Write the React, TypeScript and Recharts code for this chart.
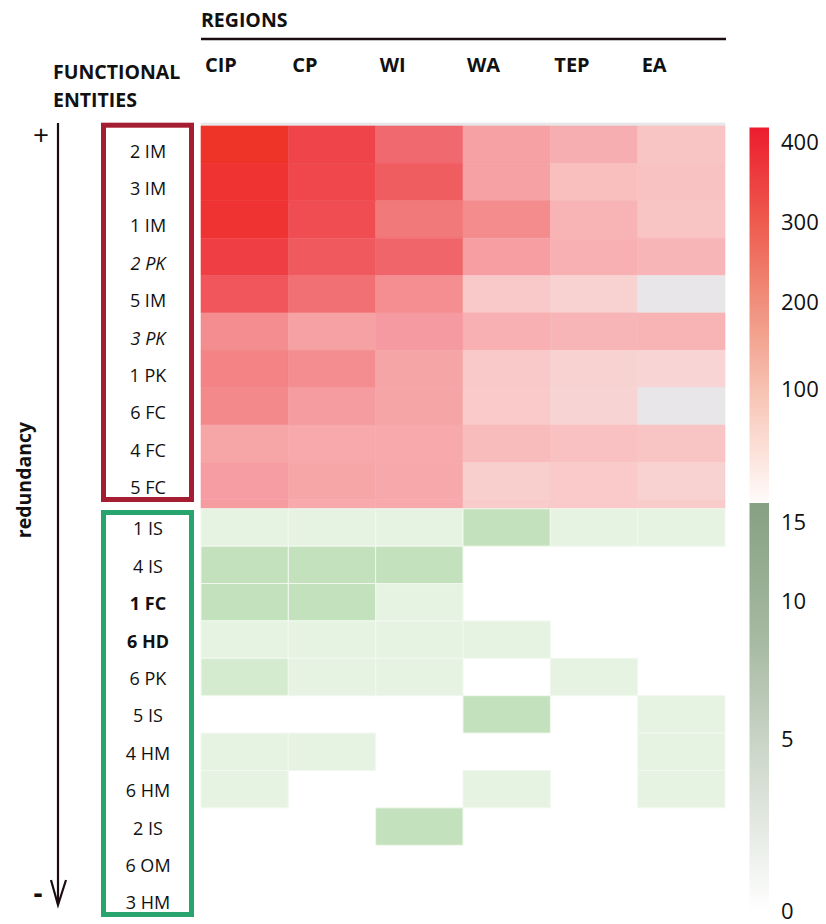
import React from 'react';
import { ComposedChart, XAxis, YAxis, ReferenceArea, Scatter } from 'recharts';

const regions = ['CIP', 'CP', 'WI', 'WA', 'TEP', 'EA'];

const highLabels = ['2 IM', '3 IM', '1 IM', '2 PK', '5 IM', '3 PK', '1 PK', '6 FC', '4 FC', '5 FC'];
const lowLabels = ['1 IS', '4 IS', '1 FC', '6 HD', '6 PK', '5 IS', '4 HM', '6 HM', '2 IS', '6 OM', '3 HM'];
const italicLabels = ['2 PK', '3 PK'];
const boldLabels = ['1 FC', '6 HD'];

// values of highly redundant entities, per row (CIP, CP, WI, WA, TEP, EA)
const highValues: number[][] = [
  [410, 330, 262, 150, 122, 76],
  [392, 322, 282, 150, 88, 80],
  [392, 312, 226, 196, 110, 76],
  [352, 290, 268, 160, 116, 106],
  [296, 244, 190, 66, 46, 0],
  [192, 150, 170, 116, 106, 110],
  [212, 192, 142, 66, 46, 40],
  [200, 166, 142, 62, 42, 0],
  [140, 132, 132, 92, 82, 76],
  [162, 140, 134, 52, 62, 46],
];
const topEdge = [0, 0, 0, 0, 0, 0];
const bottomEdge = [164, 132, 132, 60, 62, 60];

// values of low redundancy entities, per row
const lowValues: number[][] = [
  [1, 1, 1, 3, 1, 1],
  [3, 3, 3, 0, 0, 0],
  [3, 3, 1, 0, 0, 0],
  [1, 1, 1, 1, 0, 0],
  [2, 1, 1, 0, 1, 0],
  [0, 0, 0, 3, 0, 1],
  [1, 1, 0, 0, 0, 1],
  [1, 0, 0, 1, 0, 1],
  [0, 0, 3, 0, 0, 0],
  [0, 0, 0, 0, 0, 0],
  [0, 0, 0, 0, 0, 0],
];

const redTicks = [400, 300, 200, 100];
const greenTicks = [15, 10, 5, 0];

const EDGE_TOP = 0.08;
const EDGE_BOTTOM = 0.24;
const greenStart = highValues.length + EDGE_BOTTOM;
const totalRows = greenStart + lowValues.length;

const redStops: [number, string][] = [
  [40, '#f8d4d4'],
  [60, '#f9cbca'],
  [80, '#f9c2c2'],
  [105, '#f8b5b7'],
  [130, '#f7aaac'],
  [150, '#f6a2a4'],
  [170, '#f59aa0'],
  [190, '#f48e90'],
  [210, '#f38486'],
  [230, '#f27676'],
  [260, '#f06a70'],
  [280, '#f05e62'],
  [300, '#f0545a'],
  [320, '#ef484c'],
  [350, '#ef4046'],
  [390, '#ef3333'],
  [410, '#ee3428'],
];

function hex(c: string) {
  return [1, 3, 5].map((i) => parseInt(c.slice(i, i + 2), 16));
}
function mix(a: string, b: string, t: number) {
  const A = hex(a);
  const B = hex(b);
  return (
    '#' +
    A.map((v, i) => Math.round(v + (B[i] - v) * t).toString(16).padStart(2, '0')).join('')
  );
}
function redColor(v: number) {
  if (v <= 0) return '#e8e6e8';
  if (v <= redStops[0][0]) return redStops[0][1];
  for (let i = 1; i < redStops.length; i++) {
    if (v <= redStops[i][0]) {
      const [v0, c0] = redStops[i - 1];
      const [v1, c1] = redStops[i];
      return mix(c0, c1, (v - v0) / (v1 - v0));
    }
  }
  return redStops[redStops.length - 1][1];
}
const greenColors: Record<number, string> = { 1: '#e6f3e2', 2: '#d5ebd0', 3: '#c2e1bc' };

const allLabels = [...highLabels, ...lowLabels];
const tickValues = [
  ...highLabels.map((_, i) => i + 0.5),
  ...lowLabels.map((_, j) => greenStart + j + 0.5),
];
const chartData = allLabels.map((l, i) => ({ label: l, col: 0.5, pos: tickValues[i] }));

const FONT = '"Open Sans", "Noto Sans", sans-serif';

const RowTick = (props: any) => {
  const { y, payload } = props;
  const idx = tickValues.findIndex((t) => Math.abs(t - payload.value) < 1e-6);
  if (idx < 0) return null;
  const label = allLabels[idx];
  const dy = idx < highLabels.length ? 13 : 8;
  return (
    <text
      x={148}
      y={y + dy}
      textAnchor="middle"
      fontFamily={FONT}
      fontSize={18}
      fill="#111"
      fontStyle={italicLabels.includes(label) ? 'italic' : 'normal'}
      fontWeight={boldLabels.includes(label) ? 700 : 400}
    >
      {label}
    </text>
  );
};

const ColTick = (props: any) => {
  const { x, payload } = props;
  const label = regions[Math.round(payload.value)];
  if (!label) return null;
  return (
    <text x={x + 4} y={72} textAnchor="start" fontFamily={FONT} fontSize={20} fontWeight={700} fill="#111">
      {label}
    </text>
  );
};

export default function App() {
  const cells: React.ReactNode[] = [];
  const redCell = (key: string, c: number, y1: number, y2: number, v: number) => {
    const fill = redColor(v);
    return (
      <ReferenceArea
        key={key}
        xAxisId="x"
        yAxisId="y"
        x1={c}
        x2={c + 1}
        y1={y1}
        y2={y2}
        fill={fill}
        fillOpacity={1}
        stroke={fill}
        strokeWidth={0.6}
      />
    );
  };
  topEdge.forEach((v, c) => cells.push(redCell(`t${c}`, c, -EDGE_TOP, 0, v)));
  highValues.forEach((row, r) => row.forEach((v, c) => cells.push(redCell(`h${r}-${c}`, c, r, r + 1, v))));
  bottomEdge.forEach((v, c) => cells.push(redCell(`b${c}`, c, highValues.length, greenStart, v)));
  lowValues.forEach((row, r) =>
    row.forEach((v, c) => {
      if (v <= 0) return;
      cells.push(
        <ReferenceArea
          key={`l${r}-${c}`}
          xAxisId="x"
          yAxisId="y"
          x1={c}
          x2={c + 1}
          y1={greenStart + r}
          y2={greenStart + r + 1}
          fill={greenColors[v]}
          fillOpacity={1}
          stroke="#f1f8ef"
          strokeWidth={1}
        />
      );
    })
  );

  const redTickY: Record<number, number> = { 400: 150, 300: 230, 200: 310, 100: 397 };
  const greenTickY: Record<number, number> = { 15: 530, 10: 609, 5: 747, 0: 919 };

  return (
    <div style={{ position: 'absolute', left: 0, top: 0, width: 826, height: 924, background: '#fff' }}>
      <div style={{ position: 'absolute', left: 0, top: 0 }}>
        <ComposedChart
          width={826}
          height={924}
          data={chartData}
          margin={{ top: 83, right: 101, bottom: 4, left: 141 }}
        >
          <XAxis
            type="number"
            dataKey="col"
            xAxisId="x"
            orientation="top"
            domain={[0, regions.length]}
            ticks={regions.map((_, i) => i)}
            interval={0}
            height={40}
            axisLine={false}
            tickLine={false}
            tick={<ColTick />}
            allowDataOverflow
          />
          <YAxis
            type="number"
            dataKey="pos"
            yAxisId="y"
            reversed
            domain={[-EDGE_TOP, totalRows]}
            ticks={tickValues}
            interval={0}
            width={60}
            axisLine={false}
            tickLine={false}
            tick={<RowTick />}
            allowDataOverflow
          />
          <Scatter
            xAxisId="x"
            yAxisId="y"
            dataKey="pos"
            isAnimationActive={false}
            legendType="none"
            shape={() => <g />}
          />
          {cells}
        </ComposedChart>
      </div>
      <svg
        width={826}
        height={924}
        style={{ position: 'absolute', left: 0, top: 0, pointerEvents: 'none' }}
      >
        <defs>
          <linearGradient id="redbar" x1="0" y1="0" x2="0" y2="1">
            <stop offset="0" stopColor="#ec1c2e" />
            <stop offset="0.25" stopColor="#ee5a4e" />
            <stop offset="0.47" stopColor="#f0907c" />
            <stop offset="0.7" stopColor="#f7c2b2" />
            <stop offset="1" stopColor="#fffbfa" />
          </linearGradient>
          <linearGradient id="greenbar" x1="0" y1="0" x2="0" y2="1">
            <stop offset="0" stopColor="#86a082" />
            <stop offset="0.35" stopColor="#a8bba4" />
            <stop offset="0.6" stopColor="#ccd6c9" />
            <stop offset="1" stopColor="#ffffff" />
          </linearGradient>
        </defs>
        {/* header */}
        <text x={201} y={27} fontFamily={FONT} fontSize={19.5} fontWeight={700} fill="#111">
          REGIONS
        </text>
        <line x1={201} y1={39} x2={726} y2={39} stroke="#1a0c12" strokeWidth={2.5} />
        <text x={53} y={79} fontFamily={FONT} fontSize={19.5} fontWeight={700} fill="#111">
          FUNCTIONAL
        </text>
        <text x={53} y={107} fontFamily={FONT} fontSize={19.5} fontWeight={700} fill="#111">
          ENTITIES
        </text>
        {/* redundancy arrow */}
        <line x1={58} y1={123} x2={58} y2={904} stroke="#1a0c12" strokeWidth={2.2} />
        <polyline points="51,880 58,905 66,880" fill="none" stroke="#1a0c12" strokeWidth={2.2} />
        <text x={41} y={145} textAnchor="middle" fontFamily={FONT} fontSize={28} fill="#111">
          +
        </text>
        <text x={38} y={903} textAnchor="middle" fontFamily={FONT} fontSize={28} fontWeight={700} fill="#111">
          -
        </text>
        <text
          x={31}
          y={480}
          textAnchor="middle"
          fontFamily={FONT}
          fontSize={19.5}
          fontWeight={700}
          fill="#111"
          transform="rotate(-90 31 480)"
        >
          redundancy
        </text>
        {/* group boxes */}
        <rect x={103.5} y={125.2} width={88} height={374.3} fill="none" stroke="#a51d33" strokeWidth={5} />
        <rect x={103.5} y={512.5} width={88} height={402} fill="none" stroke="#28a56f" strokeWidth={5} />
        {/* colour bars */}
        <rect x={749.5} y={127.5} width={19.5} height={375} fill="url(#redbar)" />
        <rect x={749.5} y={503} width={19.5} height={410} fill="url(#greenbar)" />
        {redTicks.map((t) => (
          <text key={`r${t}`} x={781} y={redTickY[t]} fontFamily={FONT} fontSize={22} fill="#111">
            {t}
          </text>
        ))}
        {greenTicks.map((t) => (
          <text key={`g${t}`} x={781} y={greenTickY[t]} fontFamily={FONT} fontSize={22} fill="#111">
            {t}
          </text>
        ))}
      </svg>
    </div>
  );
}
